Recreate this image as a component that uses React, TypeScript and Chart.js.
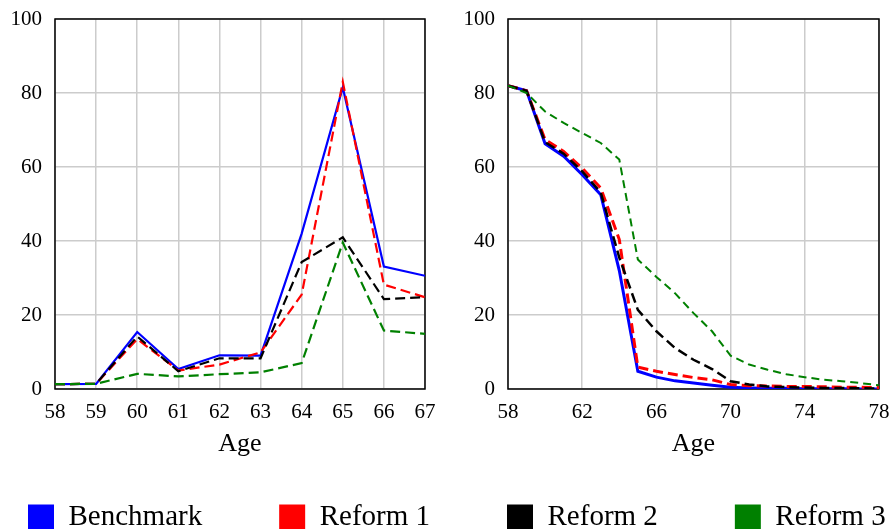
import React, { useEffect, useRef } from "react";
import { Chart, registerables } from "chart.js";

Chart.register(...registerables);

// ---------- Data ----------
const seriesNames = ["Benchmark", "Reform 1", "Reform 2", "Reform 3"];
const seriesColors = ["#0000ff", "#ff0000", "#000000", "#008000"];

// Left panel: ages 58..67
const leftAges = [58, 59, 60, 61, 62, 63, 64, 65, 66, 67];
const leftBenchmark = [1.3, 1.4, 15.4, 5.4, 9.1, 9.0, 42.0, 81.5, 33.1, 30.6];
const leftReform1 = [1.3, 1.4, 13.5, 5.0, 6.6, 9.9, 25.5, 83.0, 28.2, 24.8];
const leftReform2 = [1.3, 1.4, 14.2, 4.8, 8.3, 8.3, 34.3, 41.0, 24.3, 24.8];
const leftReform3 = [1.3, 1.4, 4.1, 3.4, 4.0, 4.5, 7.0, 39.6, 15.8, 14.9];

// Right panel: ages 58..78
const rightAges = [58, 59, 60, 61, 62, 63, 64, 65, 66, 67, 68, 69, 70, 71, 72, 73, 74, 75, 76, 77, 78];
const rightBenchmark = [82.0, 80.6, 66.3, 62.9, 57.9, 52.5, 32.0, 4.8, 3.2, 2.2, 1.6, 1.0, 0.5, 0.3, 0.2, 0.2, 0.1, 0.1, 0.1, 0.0, 0.0];
const rightReform1 = [82.0, 80.6, 67.4, 64.2, 59.7, 54.3, 40.4, 5.9, 4.8, 3.9, 3.1, 2.5, 1.2, 0.9, 0.8, 0.7, 0.7, 0.6, 0.5, 0.5, 0.4];
const rightReform2 = [82.0, 80.6, 66.7, 63.6, 58.8, 53.1, 35.5, 21.4, 15.6, 11.1, 7.9, 5.4, 2.1, 1.2, 0.7, 0.5, 0.4, 0.3, 0.3, 0.2, 0.1];
const rightReform3 = [82.0, 80.0, 75.0, 71.9, 69.2, 66.5, 62.0, 35.0, 30.3, 25.9, 20.5, 15.6, 9.0, 6.6, 5.2, 4.0, 3.2, 2.5, 2.1, 1.6, 1.0];

const yTickStep = 20;
const yMin = 0;
const yMax = 100;
const xTitle = "Age";

const FONT = "'Liberation Serif', 'Times New Roman', serif";

const framePlugin = {
  id: "frame",
  beforeDatasetsDraw(chart: any) {
    const { ctx, chartArea } = chart;
    if (!chartArea) return;
    ctx.save();
    ctx.strokeStyle = "#000";
    ctx.lineWidth = 1.5;
    ctx.strokeRect(chartArea.left, chartArea.top, chartArea.right - chartArea.left, chartArea.bottom - chartArea.top);
    ctx.restore();
  },
};

function toPoints(xs: number[], ys: number[]) {
  return xs.map((x, i) => ({ x, y: ys[i] }));
}

function makePanelConfig(
  ages: number[],
  values: number[][],
  widths: number[],
  dashes: number[][],
  xStep: number,
  yAxisWidth: number,
  padRight: number
): any {
  return {
    type: "line",
    data: {
      datasets: values.map((vals, i) => ({
        label: seriesNames[i],
        data: toPoints(ages, vals),
        borderColor: seriesColors[i],
        backgroundColor: seriesColors[i],
        borderWidth: widths[i],
        borderDash: dashes[i],
        pointRadius: 0,
        tension: 0,
        fill: false,
        order: values.length - i,
      })),
    },
    options: {
      responsive: false,
      animation: false,
      devicePixelRatio: 1,
      layout: { padding: { top: 19, right: padRight, left: 0, bottom: 0 } },
      plugins: { legend: { display: false }, tooltip: { enabled: false } },
      scales: {
        x: {
          type: "linear",
          min: ages[0],
          max: ages[ages.length - 1],
          ticks: {
            stepSize: xStep,
            padding: 11,
            color: "#000",
            font: { family: FONT, size: 21 },
            maxRotation: 0,
            autoSkip: false,
          },
          grid: { color: "#cccccc", lineWidth: 1.5, drawTicks: false },
          border: { display: false },
          title: {
            display: true,
            text: xTitle,
            color: "#000",
            font: { family: FONT, size: 26 },
            padding: { top: 0, bottom: 10 },
          },
          afterFit: (s: any) => {
            s.height = 81;
            s.paddingLeft = 0;
            s.paddingRight = 0;
          },
        },
        y: {
          min: yMin,
          max: yMax,
          ticks: {
            stepSize: yTickStep,
            padding: 13,
            color: "#000",
            font: { family: FONT, size: 21 },
          },
          grid: { color: "#cccccc", lineWidth: 1.5, drawTicks: false },
          border: { display: false },
          afterFit: (s: any) => {
            s.width = yAxisWidth;
            s.paddingTop = 0;
            s.paddingBottom = 0;
          },
        },
      },
    },
    plugins: [framePlugin],
  };
}

export default function App() {
  const leftRef = useRef<HTMLCanvasElement>(null);
  const rightRef = useRef<HTMLCanvasElement>(null);
  const legendRef = useRef<HTMLCanvasElement>(null);

  useEffect(() => {
    const charts: Chart[] = [];
    if (leftRef.current) {
      charts.push(
        new Chart(
          leftRef.current,
          makePanelConfig(
            leftAges,
            [leftBenchmark, leftReform1, leftReform2, leftReform3],
            [2.2, 2.2, 2.2, 2.2],
            [[], [10, 5], [10, 5], [10, 5]],
            1,
            55,
            21
          )
        )
      );
    }
    if (rightRef.current) {
      charts.push(
        new Chart(
          rightRef.current,
          makePanelConfig(
            rightAges,
            [rightBenchmark, rightReform1, rightReform2, rightReform3],
            [3, 3, 2.5, 2],
            [[], [10, 5], [10, 5], [8, 5]],
            4,
            62,
            13
          )
        )
      );
    }
    if (legendRef.current) {
      charts.push(
        new Chart(legendRef.current, {
          type: "line",
          data: {
            datasets: seriesNames.map((name, i) => ({
              label: name,
              data: [],
              borderColor: seriesColors[i],
              backgroundColor: seriesColors[i],
              borderWidth: 0,
            })),
          },
          options: {
            responsive: false,
            animation: false,
            devicePixelRatio: 1,
            layout: { padding: 0 },
            scales: { x: { display: false }, y: { display: false } },
            plugins: {
              tooltip: { enabled: false },
              legend: {
                display: true,
                position: "top",
                align: "start",
                labels: {
                  boxWidth: 26,
                  boxHeight: 26,
                  padding: 77,
                  color: "#000",
                  font: { family: FONT, size: 29 },
                },
              },
            },
          },
        } as any)
      );
    }
    let alive = true;
    const fonts = (document as any).fonts;
    if (fonts && fonts.load) {
      Promise.all([
        fonts.load("21px 'Liberation Serif'"),
        fonts.load("26px 'Liberation Serif'"),
        fonts.load("29px 'Liberation Serif'"),
      ])
        .then(() => {
          if (alive) charts.forEach((c) => c.update());
        })
        .catch(() => {});
    }
    return () => {
      alive = false;
      charts.forEach((c) => c.destroy());
    };
  }, []);

  return (
    <div
      style={{
        position: "fixed",
        left: 0,
        top: 0,
        width: 892,
        height: 529,
        overflow: "hidden",
        background: "#fff",
      }}
    >
      <canvas ref={leftRef} width={446} height={470} style={{ position: "absolute", left: 0, top: 0, width: 446, height: 470 }} />
      <canvas ref={rightRef} width={446} height={470} style={{ position: "absolute", left: 446, top: 0, width: 446, height: 470 }} />
      <canvas ref={legendRef} width={1150} height={260} style={{ position: "absolute", left: -49, top: 426, width: 1150, height: 260 }} />
    </div>
  );
}
